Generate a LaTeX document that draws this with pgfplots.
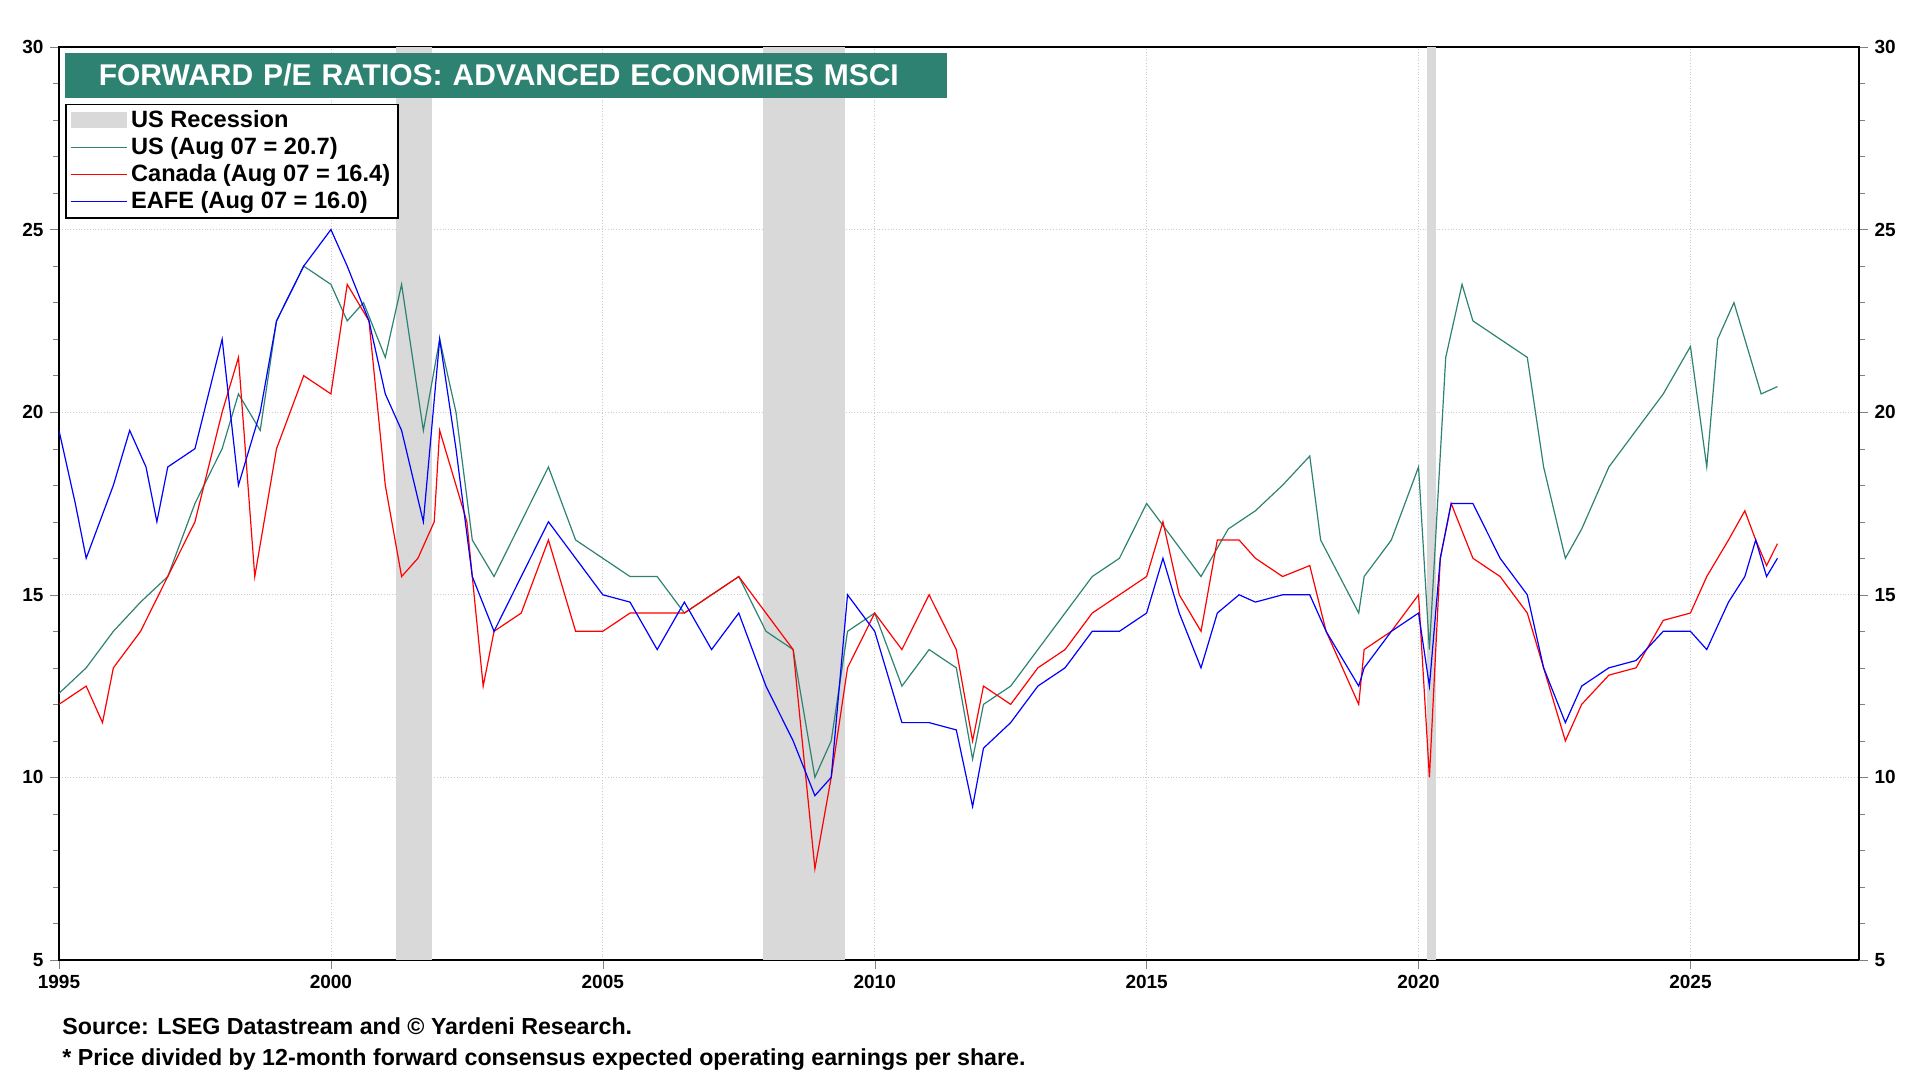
\documentclass[border=0pt]{standalone}
\usepackage{pgfplots}
\pgfplotsset{compat=1.18}
\usepackage{fontspec}
\setmainfont{Liberation Sans}
\definecolor{teal}{HTML}{2E8272}
\definecolor{usg}{HTML}{2E8272}
\definecolor{rec}{HTML}{D9D9D9}
\begin{document}
\begin{tikzpicture}
\path (0,0) rectangle (960pt,540pt);
\begin{axis}[at={(29.5pt,60pt)},anchor=south west,scale only axis,width=900pt,height=456.5pt,
 xmin=1995,xmax=2028.1,ymin=5,ymax=30,
 xtick={1995,2000,...,2025},ytick={5,10,...,30},minor ytick={5,...,30},
 x tick label style={/pgf/number format/1000 sep={}},
 /pgf/number format/assume math mode=true,
 tick label style={font=\bfseries\fontsize{9.5}{11}\selectfont},
 xmajorgrids,ymajorgrids,grid style={densely dotted,gray!40},
 tick align=outside,ytick pos=left,xtick pos=bottom,minor tick length=3pt,
 axis line style={line width=1.4pt},
 legend image code/.code={\draw[#1] (0pt,0pt) -- (28pt,0pt);},
 legend style={at={(rel axis cs:0.0034,0.938)},anchor=north west,font=\bfseries\fontsize{11.8}{13}\selectfont,draw=black,line width=0.8pt,inner xsep=2pt,inner ysep=1pt,row sep=-0.5pt,cells={anchor=west}},
 legend cell align=left]
\addplot[fill=rec,draw=none,legend image code/.code={\fill[rec] (0pt,-4pt) rectangle (28pt,4pt);}] coordinates {(2001.2,5)(2001.2,30)(2001.85,30)(2001.85,5)} --cycle;
\addlegendentry{US Recession}
\addplot[fill=rec,draw=none,forget plot] coordinates {(2007.95,5)(2007.95,30)(2009.45,30)(2009.45,5)} --cycle;
\addplot[fill=rec,draw=none,forget plot] coordinates {(2020.15,5)(2020.15,30)(2020.32,30)(2020.32,5)} --cycle;
\addplot[usg,line width=0.6pt] coordinates {(1995.0,12.3)(1995.5,13.0)(1996,14.0)(1996.5,14.8)(1997,15.5)(1997.5,17.5)(1998,19.0)(1998.3,20.5)(1998.7,19.5)(1999,22.5)(1999.5,24.0)(2000,23.5)(2000.3,22.5)(2000.6,23.0)(2001,21.5)(2001.3,23.5)(2001.7,19.5)(2002,22.0)(2002.3,20.0)(2002.6,16.5)(2003,15.5)(2003.5,17.0)(2004,18.5)(2004.5,16.5)(2005,16.0)(2005.5,15.5)(2006,15.5)(2006.5,14.5)(2007,15.0)(2007.5,15.5)(2008,14.0)(2008.5,13.5)(2008.9,10.0)(2009.2,11.0)(2009.5,14.0)(2010,14.5)(2010.5,12.5)(2011,13.5)(2011.5,13.0)(2011.8,10.5)(2012,12.0)(2012.5,12.5)(2013,13.5)(2013.5,14.5)(2014,15.5)(2014.5,16.0)(2015,17.5)(2015.5,16.5)(2016,15.5)(2016.5,16.8)(2017,17.3)(2017.5,18.0)(2018,18.8)(2018.2,16.5)(2018.9,14.5)(2019,15.5)(2019.5,16.5)(2020,18.5)(2020.2,13.5)(2020.5,21.5)(2020.8,23.5)(2021,22.5)(2021.5,22.0)(2022,21.5)(2022.3,18.5)(2022.7,16.0)(2023,16.8)(2023.5,18.5)(2024,19.5)(2024.5,20.5)(2025,21.8)(2025.3,18.5)(2025.5,22.0)(2025.8,23.0)(2026,22.0)(2026.3,20.5)(2026.6,20.7)};
\addlegendentry{US (Aug 07 = 20.7)}
\addplot[red,line width=0.6pt] coordinates {(1995,12)(1995.5,12.5)(1995.8,11.5)(1996,13)(1996.5,14)(1997,15.5)(1997.5,17)(1998,20)(1998.3,21.5)(1998.6,15.5)(1999,19)(1999.5,21)(2000,20.5)(2000.3,23.5)(2000.7,22.5)(2001,18)(2001.3,15.5)(2001.6,16)(2001.9,17)(2002,19.5)(2002.5,17)(2002.8,12.5)(2003,14)(2003.5,14.5)(2004,16.5)(2004.5,14)(2005,14)(2005.5,14.5)(2006,14.5)(2006.5,14.5)(2007,15)(2007.5,15.5)(2008,14.5)(2008.5,13.5)(2008.9,7.5)(2009.2,10)(2009.5,13)(2010,14.5)(2010.5,13.5)(2011,15)(2011.5,13.5)(2011.8,11)(2012,12.5)(2012.5,12)(2013,13)(2013.5,13.5)(2014,14.5)(2014.5,15)(2015,15.5)(2015.3,17)(2015.6,15)(2016,14)(2016.3,16.5)(2016.7,16.5)(2017,16)(2017.5,15.5)(2018,15.8)(2018.3,14)(2018.9,12)(2019,13.5)(2019.5,14)(2020,15)(2020.2,10)(2020.4,16)(2020.6,17.5)(2021,16)(2021.5,15.5)(2022,14.5)(2022.3,13)(2022.7,11)(2023,12)(2023.5,12.8)(2024,13)(2024.5,14.3)(2025,14.5)(2025.3,15.5)(2025.7,16.5)(2026,17.3)(2026.2,16.5)(2026.4,15.8)(2026.6,16.4)};
\addlegendentry{Canada (Aug 07 = 16.4)}
\addplot[blue,line width=0.6pt] coordinates {(1995,19.5)(1995.3,17.5)(1995.5,16)(1996,18)(1996.3,19.5)(1996.6,18.5)(1996.8,17)(1997,18.5)(1997.5,19)(1998,22)(1998.3,18)(1998.7,20)(1999,22.5)(1999.5,24)(2000,25)(2000.3,24)(2000.7,22.5)(2001,20.5)(2001.3,19.5)(2001.7,17)(2002,22)(2002.3,19)(2002.6,15.5)(2003,14)(2003.5,15.5)(2004,17)(2004.5,16)(2005,15)(2005.5,14.8)(2006,13.5)(2006.5,14.8)(2007,13.5)(2007.5,14.5)(2008,12.5)(2008.5,11)(2008.9,9.5)(2009.2,10)(2009.5,15)(2010,14)(2010.5,11.5)(2011,11.5)(2011.5,11.3)(2011.8,9.2)(2012,10.8)(2012.5,11.5)(2013,12.5)(2013.5,13)(2014,14)(2014.5,14)(2015,14.5)(2015.3,16)(2015.6,14.5)(2016,13)(2016.3,14.5)(2016.7,15)(2017,14.8)(2017.5,15)(2018,15)(2018.3,14)(2018.9,12.5)(2019,13)(2019.5,14)(2020,14.5)(2020.2,12.5)(2020.4,16)(2020.6,17.5)(2021,17.5)(2021.5,16)(2022,15)(2022.3,13)(2022.7,11.5)(2023,12.5)(2023.5,13)(2024,13.2)(2024.5,14)(2025,14)(2025.3,13.5)(2025.7,14.8)(2026,15.5)(2026.2,16.5)(2026.4,15.5)(2026.6,16.0)};
\addlegendentry{EAFE (Aug 07 = 16.0)}
\node[fill=teal,text=white,font=\bfseries\fontsize{15}{17}\selectfont,anchor=north west,minimum width=441pt,minimum height=22.5pt,inner xsep=17pt,inner ysep=0pt,align=left,text width=407pt] at (rel axis cs:0.003,0.994) {FORWARD P/E RATIOS: ADVANCED ECONOMIES MSCI};
\end{axis}
\begin{axis}[at={(29.5pt,60pt)},anchor=south west,scale only axis,width=900pt,height=456.5pt,
 xmin=1995,xmax=2028.1,ymin=5,ymax=30,hide x axis,axis y line*=right,
 ytick={5,10,...,30},minor ytick={5,...,30},tick align=outside,minor tick length=3pt,
 /pgf/number format/assume math mode=true,axis line style={line width=1.4pt},
 tick label style={font=\bfseries\fontsize{9.5}{11}\selectfont}]
\addplot[draw=none] coordinates {(2000,10)};
\end{axis}
\node[anchor=west,font=\bfseries\fontsize{11.6}{13}\selectfont,inner sep=0pt] at (31pt,27pt) {Source: LSEG Datastream and © Yardeni Research.};
\node[anchor=west,font=\bfseries\fontsize{11.6}{13}\selectfont,inner sep=0pt] at (31pt,10pt) {* Price divided by 12-month forward consensus expected operating earnings per share.};
\end{tikzpicture}
\end{document}
